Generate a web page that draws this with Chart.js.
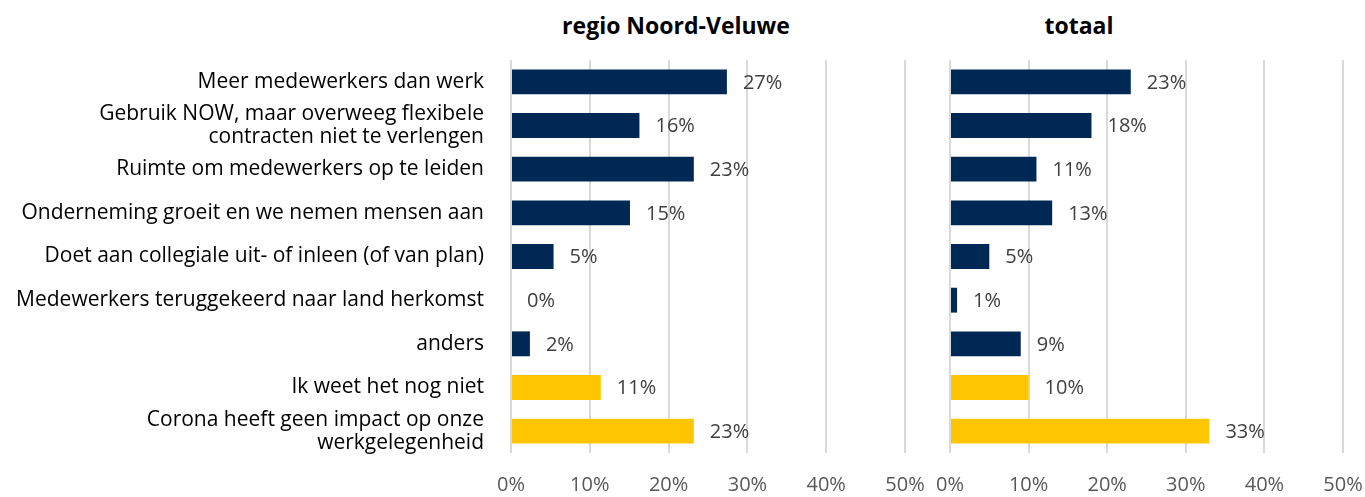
<!DOCTYPE html>
<html>
<head>
<meta charset="utf-8">
<script src="https://cdn.jsdelivr.net/npm/chart.js@4"></script>
<style>
  html, body { margin: 0; padding: 0; background: #fff; }
  body { width: 1365px; height: 497px; position: relative; overflow: hidden; }
  .box { position: absolute; top: 0; height: 497px; }
  .titel { position: absolute; top: 10px; font: bold 23px "Open Sans", sans-serif; line-height: 1.362; color: #000; transform: translateX(-50%); white-space: nowrap; }
</style>
</head>
<body>
<div class="titel" style="left:676px">regio Noord-Veluwe</div>
<div class="titel" style="left:1079px">totaal</div>
<div class="box" style="left:0; width:935px"><canvas id="grfRegio"></canvas></div>
<div class="box" style="left:920px; width:445px"><canvas id="grfTotaal"></canvas></div>
<script>
const categorieen = [
    'Meer medewerkers dan werk',
    ['Gebruik NOW, maar overweeg flexibele', 'contracten niet te verlengen'],
    'Ruimte om medewerkers op te leiden',
    'Onderneming groeit en we nemen mensen aan',
    'Doet aan collegiale uit- of inleen (of van plan)',
    'Medewerkers teruggekeerd naar land herkomst',
    'anders',
    'Ik weet het nog niet',
    ['Corona heeft geen impact op onze', 'werkgelegenheid']
];
const regioWaarden = [27.4, 16.3, 23.2, 15.1, 5.4, 0, 2.4, 11.4, 23.2];
const totaalWaarden = [23, 18, 11, 13, 5, 0.9, 9, 10, 33];
const asTicks = [0, 10, 20, 30, 40, 50];

const blauw = '#002855';
const geel = '#FFC600';
const balkKleuren = [blauw, blauw, blauw, blauw, blauw, blauw, blauw, geel, geel];

// labels achter de balken tekenen (geen datalabels plugin beschikbaar)
const labelPlugin = {
    id: 'balkLabels',
    afterDatasetsDraw(chart) {
        const ctx = chart.ctx;
        const meta = chart.getDatasetMeta(0);
        const data = chart.data.datasets[0].data;
        ctx.save();
        ctx.font = '20px "Open Sans", sans-serif';
        ctx.fillStyle = '#404040';
        ctx.textAlign = 'left';
        ctx.textBaseline = 'middle';
        meta.data.forEach((bar, i) => {
            ctx.fillText(Math.round(data[i]) + '%', bar.x + 16, bar.y + 1);
        });
        ctx.restore();
    }
};

function maakGrafiek(id, waarden, metLabels) {
    const ctx = document.getElementById(id).getContext('2d');
    return new Chart(ctx, {
        type: 'bar',
        data: {
            labels: categorieen,
            datasets: [{
                data: waarden,
                backgroundColor: balkKleuren,
                borderWidth: 0,
                categoryPercentage: 1,
                barPercentage: 0.57
            }]
        },
        options: {
            indexAxis: 'y',
            responsive: true,
            maintainAspectRatio: false,
            animation: false,
            layout: {
                padding: { top: 60, right: metLabels ? 30 : 22, left: metLabels ? 0 : 30, bottom: 0 }
            },
            plugins: {
                legend: { display: false },
                tooltip: { enabled: false },
                title: { display: false }
            },
            scales: {
                x: {
                    min: 0,
                    max: 50,
                    afterBuildTicks(scale) {
                        scale.ticks = asTicks.map(v => ({ value: v }));
                    },
                    afterFit(scale) { scale.height = 44; },
                    grid: { color: '#d9d9d9', lineWidth: 2, drawTicks: true, tickLength: 18, tickColor: 'rgba(0,0,0,0)' },
                    border: { display: false },
                    ticks: {
                        padding: 2,
                        color: '#595959',
                        font: { family: 'Open Sans', size: 20 },
                        callback: v => v + '%'
                    }
                },
                y: {
                    grid: { display: false, drawTicks: false },
                    border: { display: false },
                    afterFit(scale) { scale.width = metLabels ? 511 : 0; },
                    ticks: {
                        display: metLabels,
                        autoSkip: false,
                        padding: 27,
                        color: '#000',
                        font: { family: 'Open Sans', size: 21, lineHeight: 1.1 }
                    }
                }
            }
        },
        plugins: [labelPlugin]
    });
}

window.addEventListener('DOMContentLoaded', () => {
    maakGrafiek('grfRegio', regioWaarden, true);
    maakGrafiek('grfTotaal', totaalWaarden, false);
});
</script>
</body>
</html>
